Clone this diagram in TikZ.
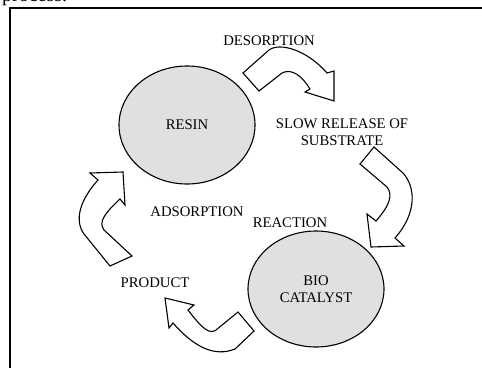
\documentclass[tikz,border=0pt]{standalone}
\usepackage{fontspec}
\setmainfont{Liberation Serif}
\usetikzlibrary{shapes.geometric}
\definecolor{blobgray}{RGB}{224,224,224}
\begin{document}
\begin{tikzpicture}[x=1pt,y=-1pt,
  lbl/.style={font=\fontsize{14.7}{16.5}\selectfont, inner sep=0pt, align=center},
  blob/.style={ellipse, draw, line width=1.1pt, fill=blobgray, inner sep=0pt,
    font=\fontsize{14.7}{16.5}\selectfont, align=center},
  bentarrow/.style={draw, line width=1.1pt, fill=white, line join=miter}]
\useasboundingbox (0,0) rectangle (482,367);
\clip (0,0) rectangle (482,367);

% running text above the frame
\node[anchor=base west, font=\fontsize{20}{24}\selectfont, inner sep=0pt] (caption) at (2,1) {process.};

% frame
\draw[line width=1.3pt] (10,372) -- (10,8) -- (488,8);

% the two vessels
\node[blob, minimum width=136pt, minimum height=118pt] (resin) at (187,125) {RESIN};
\node[blob, minimum width=136pt, minimum height=116pt] (bio) at (316,289) {BIO\\CATALYST};

% labels
\node[lbl] (desorption) at (269,41) {DESORPTION};
\node[lbl] (release) at (342,132) {SLOW RELEASE OF\\SUBSTRATE};
\node[lbl] (adsorption) at (197,212) {ADSORPTION};
\node[lbl] (reaction) at (290,223) {REACTION};
\node[lbl] (product) at (155,283) {PRODUCT};

% desorption arrow: resin -> release
\path[bentarrow] (243,73) -- (269,50)
  .. controls (280,42) and (307,50) .. (327,73)
  -- (334,71) -- (334,101) -- (305,92) -- (310,89)
  .. controls (302,76) and (292,68) .. (282,73)
  -- (259,91) -- cycle;

% release arrow: release -> biocatalyst
\path[bentarrow] (374,147) -- (403,173)
  .. controls (415,186) and (418,212) .. (395,238)
  -- (404,246) -- (371,247) -- (367,214) -- (376,221)
  .. controls (390,205) and (393,195) .. (387,187)
  -- (360,164) -- cycle;

% product arrow: biocatalyst -> product
\path[bentarrow] (254,331) -- (235,349)
  .. controls (215,357) and (195,348) .. (173,323)
  -- (169,328) -- (165,298) -- (194,305) -- (188,310)
  .. controls (204,331) and (210,334) .. (216,330)
  -- (238,312) -- cycle;

% adsorption arrow: product -> resin
\path[bentarrow] (110,266) -- (84,234)
  .. controls (74,220) and (80,200) .. (98,180)
  -- (90,173) -- (123,172) -- (125,205) -- (120,199)
  .. controls (105,213) and (98,222) .. (104,230)
  -- (132,256) -- cycle;
\end{tikzpicture}
\end{document}
